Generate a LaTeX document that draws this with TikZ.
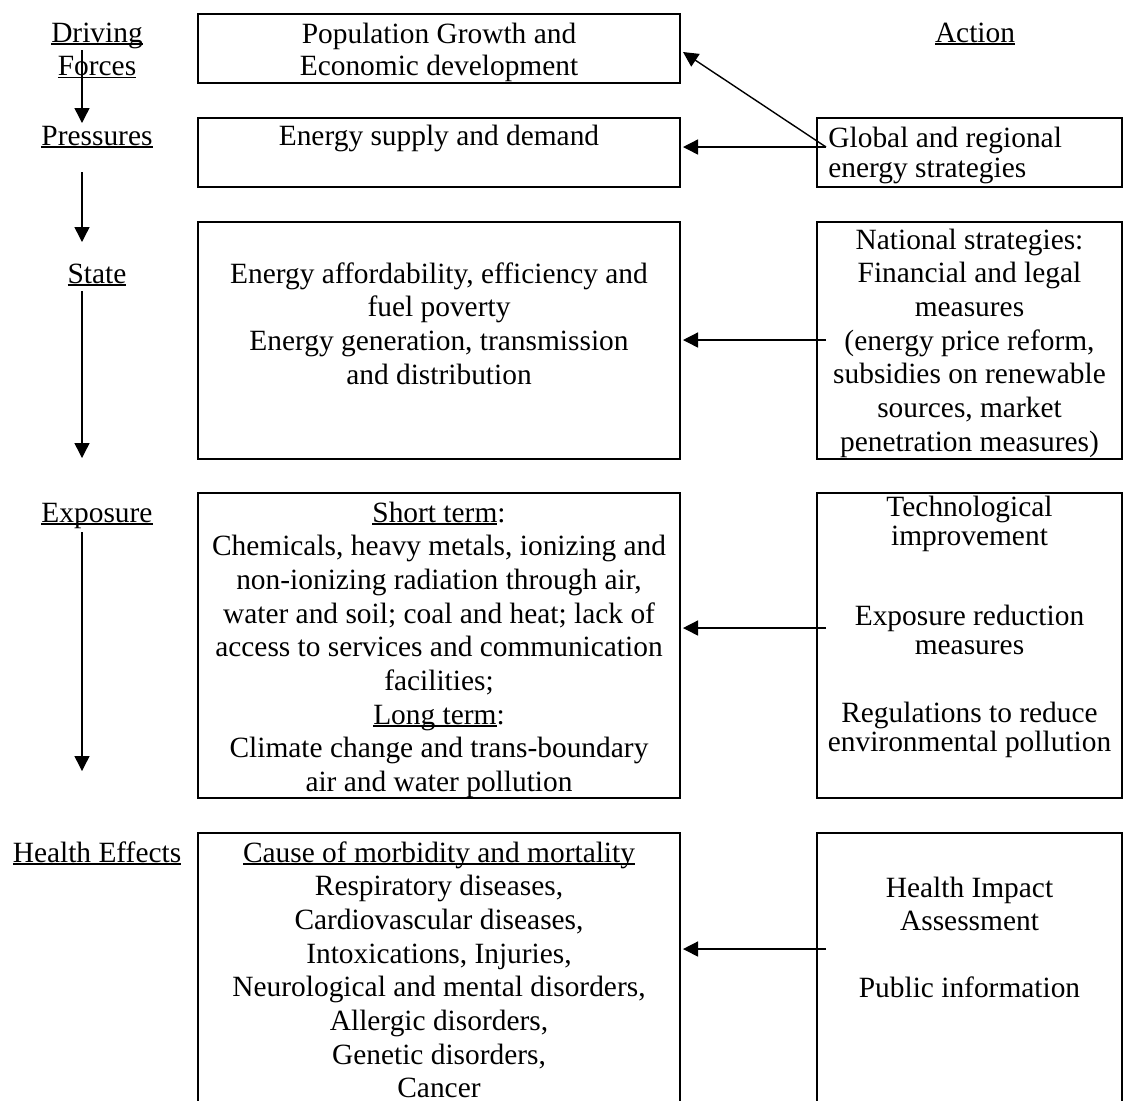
\documentclass[tikz,border=0pt]{standalone}
\usepackage{fontspec}
\setmainfont{Liberation Serif}
\usetikzlibrary{arrows.meta}
\newcommand\blk[1]{\begin{tabular}[t]{@{}c@{}}#1\end{tabular}}
\newcommand\blkl[1]{\begin{tabular}[t]{@{}l@{}}#1\end{tabular}}
\newcommand\ul[1]{\leavevmode\setbox0\hbox{#1}\rlap{\rule[-1.3pt]{\wd0}{0.9pt}}\box0}
\begin{document}
\begin{tikzpicture}[x=0.5pt,y=-0.5pt,
  box/.style={draw, line width=1pt, inner sep=0pt},
  txt/.style={inner sep=0pt, anchor=base, font=\fontsize{14.7}{16.85}\selectfont},
  arr/.style={line width=0.7pt, -{Triangle[length=7.5pt,width=7.5pt]}}]
\path[use as bounding box, clip] (0,0) rectangle (1123,1100);
\fill[white] (0,0) rectangle (1123,1100);
% boxes
\node[box, minimum width=241pt, minimum height=34.5pt] (pop) at (439,48) {};
\node[box, minimum width=241pt, minimum height=34.5pt] (sup) at (439,152) {};
\node[box, minimum width=152.5pt, minimum height=34.5pt] (glob) at (969.5,152) {};
\node[box, minimum width=241pt, minimum height=118.5pt] (state) at (439,340.5) {};
\node[box, minimum width=152.5pt, minimum height=118.5pt] (nat) at (969.5,340.5) {};
\node[box, minimum width=241pt, minimum height=152.5pt] (expo) at (439,645.5) {};
\node[box, minimum width=152.5pt, minimum height=152.5pt] (tech) at (969.5,645.5) {};
\node[box, minimum width=241pt, minimum height=150pt] (hlth) at (439,983) {};
\node[box, minimum width=152.5pt, minimum height=150pt] (hia) at (969.5,983) {};
% left labels
\node[txt] (df) at (97,42) {\blk{\ul{Driving}\\\ul{Forces}}};
\node[txt] (pr) at (97,145) {\ul{Pressures}};
\node[txt] (st) at (97,283) {\ul{State}};
\node[txt] (ex) at (97,522) {\ul{Exposure}};
\node[txt] (he) at (97,862) {\ul{Health Effects}};
\node[txt] (act) at (975,42) {\ul{Action}};
% box texts
\node[txt, font=\fontsize{14.7}{16}\selectfont] (tpop) at (pop.center |- 0,43) {\blk{Population Growth and\\Economic development}};
\node[txt] (tsup) at (sup.center |- 0,145) {Energy supply and demand};
\node[txt, anchor=base west, font=\fontsize{14.7}{15.2}\selectfont] (tglob) at (828,147) {\blkl{Global and regional\\energy strategies}};
\node[txt] (tstate) at (state.center |- 0,283) {\blk{Energy affordability, efficiency and\\fuel poverty\\Energy generation, transmission\\and distribution}};
\node[txt] (tnat) at (nat.center |- 0,249) {\blk{National strategies:\\Financial and legal\\measures\\(energy price reform,\\subsidies on renewable\\sources, market\\penetration measures)}};
\node[txt] (texpo) at (expo.center |- 0,522) {\blk{\ul{Short term}:\\Chemicals, heavy metals, ionizing and\\non-ionizing radiation through air,\\water and soil; coal and heat; lack of\\access to services and communication\\facilities;\\\ul{Long term}:\\Climate change and trans-boundary\\air and water pollution}};
\node[txt, font=\fontsize{14.7}{14.75}\selectfont] (ttech1) at (tech.center |- 0,516) {\blk{Technological\\improvement}};
\node[txt, font=\fontsize{14.7}{14.75}\selectfont] (ttech2) at (tech.center |- 0,625) {\blk{Exposure reduction\\measures}};
\node[txt, font=\fontsize{14.7}{14.75}\selectfont] (ttech3) at (tech.center |- 0,722) {\blk{Regulations to reduce\\environmental pollution}};
\node[txt] (thlth) at (hlth.center |- 0,862) {\blk{\ul{Cause of morbidity and mortality}\\Respiratory diseases,\\Cardiovascular diseases,\\Intoxications, Injuries,\\Neurological and mental disorders,\\Allergic disorders,\\Genetic disorders,\\Cancer}};
\node[txt] (thia1) at (hia.center |- 0,897) {\blk{Health Impact\\Assessment}};
\node[txt] (thia2) at (hia.center |- 0,997) {Public information};
% left arrows
\coordinate (l1a) at (82,50);  \coordinate (l1b) at (82,123);
\coordinate (l2a) at (82,172); \coordinate (l2b) at (82,242);
\coordinate (l3a) at (82,291); \coordinate (l3b) at (82,458);
\coordinate (l4a) at (82,532); \coordinate (l4b) at (82,771);
\draw[arr] (l1a) -- (l1b);
\draw[arr] (l2a) -- (l2b);
\draw[arr] (l3a) -- (l3b);
\draw[arr] (l4a) -- (l4b);
% right arrows
\coordinate (gs) at (826,147);
\coordinate (ns) at (826,340);
\coordinate (ts) at (826,628);
\coordinate (hs) at (826,949);
\draw[arr] (gs) -- ([xshift=1pt,yshift=-2pt]pop.east);
\draw[arr] (gs) -- ([xshift=1pt]sup.east |- gs);
\draw[arr] (ns) -- ([xshift=1pt]state.east |- ns);
\draw[arr] (ts) -- ([xshift=1pt]expo.east |- ts);
\draw[arr] (hs) -- ([xshift=1pt]hlth.east |- hs);
\end{tikzpicture}
\end{document}
